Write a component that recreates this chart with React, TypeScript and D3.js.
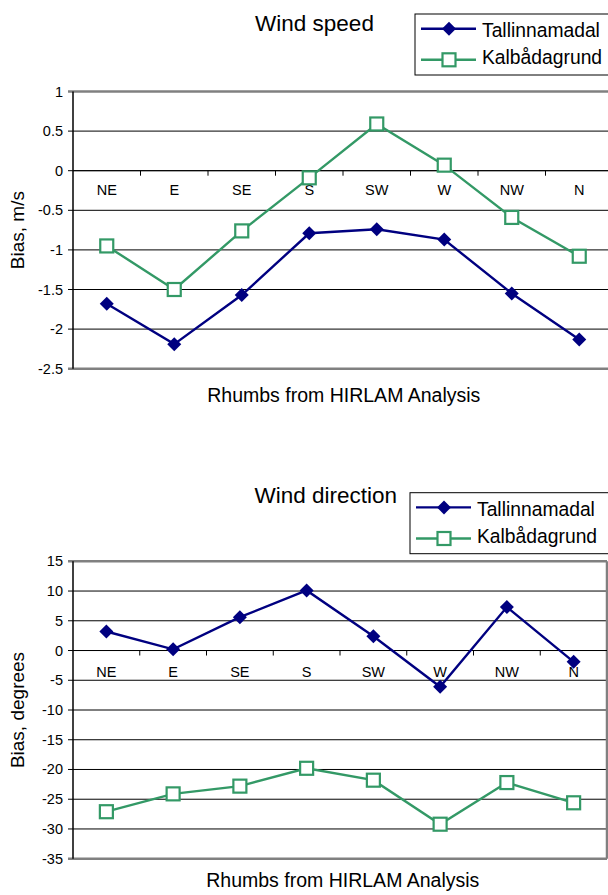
import React from "react";
import * as d3 from "d3";

// rhumbs along the x axis
const rhumbs = ["NE", "E", "SE", "S", "SW", "W", "NW", "N"];
const seriesNames = ["Tallinnamadal", "Kalbådagrund"];

// wind speed bias, m/s
const speedTallinn = [-1.68, -2.19, -1.57, -0.79, -0.74, -0.87, -1.55, -2.13];
const speedKalbada = [-0.95, -1.5, -0.76, -0.09, 0.59, 0.07, -0.59, -1.08];
const speedTicks = [1, 0.5, 0, -0.5, -1, -1.5, -2, -2.5];

// wind direction bias, degrees
const dirTallinn = [3.2, 0.2, 5.6, 10.1, 2.4, -6.1, 7.3, -1.9];
const dirKalbada = [-27.1, -24.1, -22.8, -19.8, -21.8, -29.2, -22.2, -25.6];
const dirTicks = [15, 10, 5, 0, -5, -10, -15, -20, -25, -30, -35];

const FONT = "Arial, 'Liberation Sans', sans-serif";
const NAVY = "#000080";
const GREEN = "#339966";

type ChartProps = {
  title: string;
  titleX: number;
  titleY: number;
  yLabel: string;
  legendX: number;
  legendY: number;
  left: number;
  top: number;
  right: number;
  bottom: number;
  ticks: number[];
  catLabelDy: number;
  xTitleX: number;
  xTitleY: number;
  a: number[];
  b: number[];
};

const diamond = (x: number, y: number, r: number) =>
  `M${x},${y - r}L${x + r},${y}L${x},${y + r}L${x - r},${y}Z`;

const Chart = (p: ChartProps) => {
  const x = d3.scaleBand().domain(rhumbs).range([p.left, p.right]);
  const y = d3
    .scaleLinear()
    .domain([d3.min(p.ticks)!, d3.max(p.ticks)!])
    .range([p.bottom, p.top]);
  const cx = (i: number) => x(rhumbs[i])! + x.bandwidth() / 2;
  const line = d3
    .line<number>()
    .x((d, i) => cx(i))
    .y((d) => y(d));
  const y0 = y(0);
  const edge = (t: number) => t === p.ticks[0] || t === p.ticks[p.ticks.length - 1];

  return (
    <g fontFamily={FONT}>
      <text x={p.titleX} y={p.titleY} fontSize={22.5} textAnchor="middle">
        {p.title}
      </text>

      {/* legend */}
      <rect
        x={p.legendX}
        y={p.legendY}
        width={220}
        height={61}
        fill="white"
        stroke="black"
        strokeWidth={1}
      />
      {seriesNames.map((name, i) => {
        const ly = p.legendY + (i === 0 ? 14.7 : 45.8);
        const ty = p.legendY + (i === 0 ? 23.3 : 50);
        const mx = p.legendX + 34;
        const col = i === 0 ? NAVY : GREEN;
        return (
          <g key={name}>
            <line x1={p.legendX + 6} x2={p.legendX + 61} y1={ly} y2={ly} stroke={col} strokeWidth={2.4} />
            {i === 0 ? (
              <path d={diamond(mx, ly, 7)} fill={NAVY} />
            ) : (
              <rect x={mx - 6.5} y={ly - 6.5} width={13} height={13} fill="white" stroke={GREEN} strokeWidth={2.2} />
            )}
            <text x={p.legendX + 67} y={ty} fontSize={19.3}>
              {name}
            </text>
          </g>
        );
      })}

      {/* grid */}
      {p.ticks.map((t) => (
        <g key={t}>
          <line
            x1={p.left - 5}
            x2={p.right}
            y1={y(t)}
            y2={y(t)}
            stroke={edge(t) ? "#808080" : "black"}
            strokeWidth={edge(t) ? 2.5 : 1}
          />
          <text x={p.left - 10} y={y(t) + 5} fontSize={14.5} textAnchor="end">
            {t}
          </text>
        </g>
      ))}
      <line x1={p.right} x2={p.right} y1={p.top} y2={p.bottom} stroke="#808080" strokeWidth={2.5} />
      <line x1={p.left} x2={p.left} y1={p.top} y2={p.bottom} stroke="black" strokeWidth={1.5} />

      {/* category axis on zero line */}
      <line x1={p.left} x2={p.right} y1={y0} y2={y0} stroke="black" strokeWidth={1} />
      {rhumbs.slice(1).map((r) => (
        <line key={r} x1={x(r)!} x2={x(r)!} y1={y0} y2={y0 + 5} stroke="black" strokeWidth={1} />
      ))}
      {rhumbs.map((r, i) => (
        <text key={r} x={cx(i)} y={y0 + p.catLabelDy} fontSize={14.5} textAnchor="middle">
          {r}
        </text>
      ))}

      {/* series */}
      <path d={line(p.a)!} fill="none" stroke={NAVY} strokeWidth={2.4} />
      <path d={line(p.b)!} fill="none" stroke={GREEN} strokeWidth={2.4} />
      {p.a.map((v, i) => (
        <path key={"a" + i} d={diamond(cx(i), y(v), 7)} fill={NAVY} />
      ))}
      {p.b.map((v, i) => (
        <rect
          key={"b" + i}
          x={cx(i) - 6.5}
          y={y(v) - 6.5}
          width={13}
          height={13}
          fill="white"
          stroke={GREEN}
          strokeWidth={2.2}
        />
      ))}

      <text
        transform={`translate(24,${(p.top + p.bottom) / 2}) rotate(-90)`}
        fontSize={19}
        textAnchor="middle"
      >
        {p.yLabel}
      </text>
      <text x={p.xTitleX} y={p.xTitleY} fontSize={19.5} textAnchor="middle">
        Rhumbs from HIRLAM Analysis
      </text>
    </g>
  );
};

export default function App() {
  return (
    <svg
      width={608}
      height={895}
      style={{ position: "absolute", left: 0, top: 0, background: "white" }}
    >
      <Chart
        title="Wind speed"
        titleX={314.5}
        titleY={30.7}
        yLabel="Bias, m/s"
        legendX={415}
        legendY={14}
        left={73}
        top={91.5}
        right={613}
        bottom={368.7}
        ticks={speedTicks}
        catLabelDy={24.3}
        xTitleX={343.8}
        xTitleY={402.3}
        a={speedTallinn}
        b={speedKalbada}
      />
      <Chart
        title="Wind direction"
        titleX={325.8}
        titleY={503.3}
        yLabel="Bias, degrees"
        legendX={410}
        legendY={492.7}
        left={73}
        top={561.3}
        right={607}
        bottom={858.7}
        ticks={dirTicks}
        catLabelDy={26.8}
        xTitleX={342.8}
        xTitleY={887.3}
        a={dirTallinn}
        b={dirKalbada}
      />
    </svg>
  );
}
